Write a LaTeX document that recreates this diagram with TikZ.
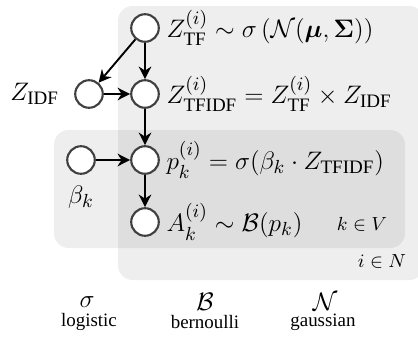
\documentclass[tikz,border=0pt]{standalone}
\usepackage{amsmath}
\usepackage{amssymb}
\usepackage{bm}
\usepackage{fontspec}
\setmainfont{Liberation Serif}
\usetikzlibrary{arrows.meta, positioning}
\tikzset{
    var/.style={circle, draw=black!75, fill=white, line width=1pt, minimum size=0.46cm, inner sep=0pt},
    plate/.style={fill=black, fill opacity=0.065, rounded corners=7pt, draw=none},
    eq/.style={anchor=west, inner sep=0pt},
    arr/.style={-{Stealth[length=6pt, width=6pt]}, line width=0.9pt},
    lbl/.style={font=\small, inner sep=0pt},
    big/.style={font=\fontsize{12.9}{15}\selectfont}
}

\begin{document}
\begin{tikzpicture}[x=0.0167cm, y=-0.0167cm, big]
    \useasboundingbox (0,0) rectangle (418,339);
    % plates
    \fill[plate] (118,6) rectangle (424,280);
    \fill[plate] (54,130) rectangle (405,248);

    % variables
    \node[var] (tf) at (145,28) {};
    \node[var] (tfidf) at (145,94) {};
    \node[var] (idf) at (89,94) {};
    \node[var] (p) at (145,160) {};
    \node[var] (beta) at (81,160) {};
    \node[var] (a) at (145,222) {};

    \node[eq, right=3pt of tf] (tftxt) {$Z^{(i)}_{\text{TF}} \sim \sigma\left(\mathcal{N}(\bm{\mu},\bm{\Sigma})\right)$};
    \node[eq, right=3pt of tfidf] (tfidftxt) {$Z^{(i)}_{\text{TFIDF}} = Z^{(i)}_{\text{TF}} \times Z_{\text{IDF}}$};
    \node[eq, right=3pt of p] (ptxt) {$p^{(i)}_k = \sigma(\beta_k \cdot Z_{\text{TFIDF}})$};
    \node[eq, right=3pt of a] (atxt) {$A^{(i)}_k \sim \mathcal{B}(p_k)$};
    \node[inner sep=0pt, left=7pt of idf] (idftxt) {$Z_{\text{IDF}}$};
    \node[inner sep=0pt, below=5pt of beta] (betatxt) {$\beta_k$};

    \node[lbl] (kv) at (362,224) {$k \in V$};
    \node[lbl] (in) at (382,262) {$i \in N$};

    \draw[arr] (tf) -- (idf);
    \draw[arr] (tf) -- (tfidf);
    \draw[arr] (idf) -- (tfidf);
    \draw[arr] (tfidf) -- (p);
    \draw[arr] (beta) -- (p);
    \draw[arr] (p) -- (a);

    % legend
    \node (sig) at (87,302) {$\sigma$};
    \node[lbl] (sigtxt) at (89,322) {logistic};
    \node (ber) at (205,302) {$\mathcal{B}$};
    \node[lbl] (bertxt) at (205,322) {bernoulli};
    \node (gau) at (325,302) {$\mathcal{N}$};
    \node[lbl] (gautxt) at (323,322) {gaussian};
\end{tikzpicture}
\end{document}
